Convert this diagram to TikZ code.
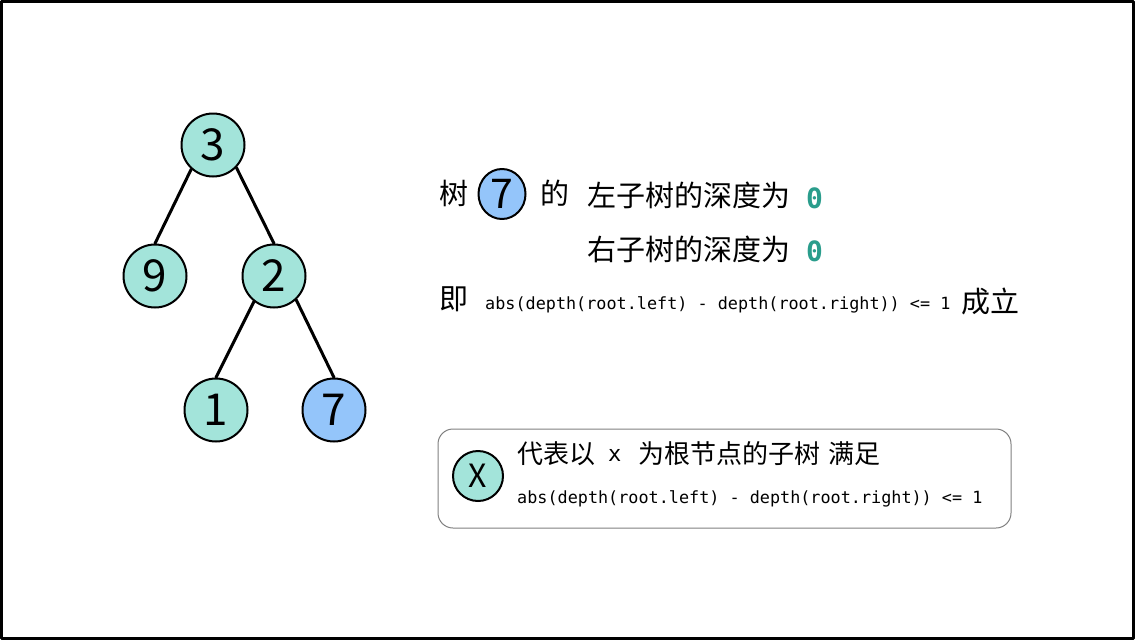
\documentclass[tikz,border=0pt]{standalone}
\usepackage{fontspec}
\setmainfont{Noto Sans CJK SC}
\setmonofont{DejaVu Sans Mono}
\usetikzlibrary{shapes.geometric}
\definecolor{mint}{HTML}{A3E4DA}
\definecolor{skyblue}{HTML}{94C5FA}
\definecolor{zeroteal}{HTML}{2A9D8C}
\definecolor{boxgray}{HTML}{808080}

\tikzset{
  treenode/.style={circle,draw=black,line width=2pt,fill=mint,minimum size=63pt,
    inner sep=0pt,font=\fontsize{44}{44}\selectfont},
  leafblue/.style={treenode,fill=skyblue},
  treeedge/.style={line width=3pt,black},
  cjktext/.style={anchor=west,inner sep=0pt,font=\fontsize{29}{30}\selectfont},
  boxtext/.style={anchor=west,inner sep=0pt,font=\fontsize{26}{28}\selectfont},
  codetext/.style={anchor=west,inner sep=0pt,font=\ttfamily\fontsize{16.8}{18}\selectfont},
  zerotext/.style={anchor=west,inner sep=0pt,text=zeroteal,font=\ttfamily\bfseries\fontsize{28}{30}\selectfont}
}

\begin{document}
\begin{tikzpicture}
      [x=1pt,y=-1pt,line cap=round,line join=round]

%frame of the picture
  \useasboundingbox (0,0) rectangle (1135,640);
  \draw[line width=3pt] (1.5,1.5) rectangle (1133.5,638.5);

%the tree
  \node[treenode] (n3) at (213,145) {3};
  \node[treenode] (n9) at (155,276) {9};
  \node[treenode] (n2) at (274,276) {2};
  \node[treenode] (n1) at (216,410) {1};
  \node[leafblue] (n7) at (334,410) {7};
  \draw[treeedge] (n3.228) -- (n9.north);
  \draw[treeedge] (n3.316) -- (n2.north);
  \draw[treeedge] (n2.232) -- (n1.north);
  \draw[treeedge] (n2.313) -- (n7.north);

%depths of the subtree 7
  \node[cjktext] (shu) at (439,193) {树};
  \node[ellipse,draw=black,line width=2pt,fill=skyblue,minimum width=47pt,minimum height=50pt,
        inner sep=0pt,font=\fontsize{41}{41}\selectfont] (seven) at (502,194) {7};
  \node[cjktext] (de) at (540,193) {的};
  \node[cjktext] (left) at (587,195) {左子树的深度为};
  \node[zerotext] (zeroleft) at (806,198) {0};
  \node[cjktext] (right) at (587,249) {右子树的深度为};
  \node[zerotext] (zeroright) at (806,251) {0};
  \node[cjktext] (ji) at (439,299) {即};
  \node[codetext] (cond) at (485,305) {abs(depth(root.left) - depth(root.right)) <= 1};
  \node[cjktext] (holds) at (961,301) {成立};

%legend box
  \draw[boxgray,line width=1pt,rounded corners=15pt] (438,429) rectangle (1011,528);
  \node[treenode,minimum size=50pt,font=\fontsize{32}{32}\selectfont] (xnode) at (478,476) {X};
  \node[boxtext] (rep) at (517,454) {代表以};
  \node[codetext,font=\ttfamily\fontsize{22}{24}\selectfont] (xvar) at (608,455) {x};
  \node[boxtext] (root) at (638,454) {为根节点的子树};
  \node[boxtext] (meets) at (828,454) {满足};
  \node[codetext] (bal) at (517,499) {abs(depth(root.left) - depth(root.right)) <= 1};

\end{tikzpicture}
\end{document}
